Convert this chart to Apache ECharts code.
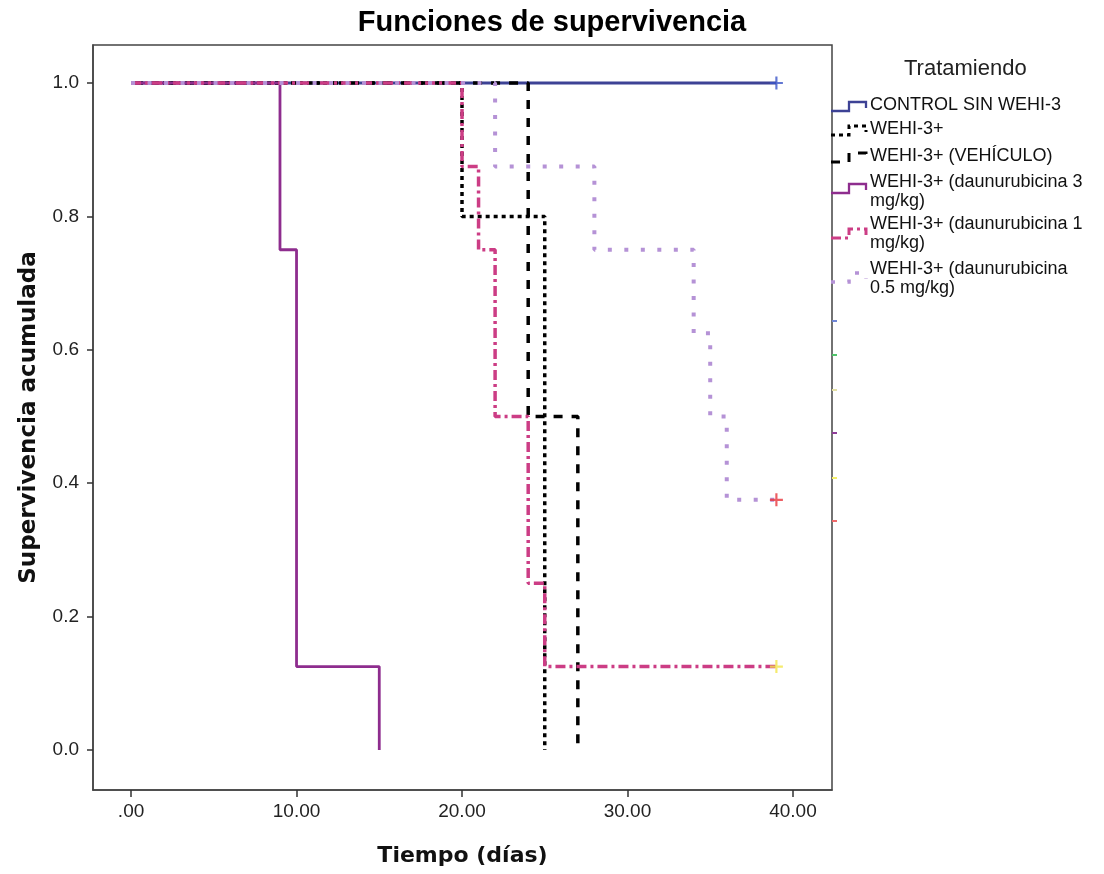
<!DOCTYPE html>
<html>
<head>
<meta charset="utf-8">
<script src="https://cdn.jsdelivr.net/npm/echarts@6/dist/echarts.min.js"></script>
<style>
  html, body { margin: 0; padding: 0; background: #fff; }
  #chart { width: 1104px; height: 874px; }
</style>
</head>
<body>
<div id="chart"></div>
<script>
// datos: [tiempo (días), supervivencia acumulada]
const control = [[0, 1], [39, 1]];
const wehi = [[0, 1], [20, 0.8], [25, 0]];
const vehiculo = [[0, 1], [24, 0.5], [27, 0]];
const dauno3 = [[0, 1], [9, 0.75], [10, 0.125], [15, 0]];
const dauno1 = [[0, 1], [20, 0.875], [21, 0.75], [22, 0.5], [24, 0.25], [25, 0.125], [39, 0.125]];
const dauno05 = [[0, 1], [22, 0.875], [28, 0.75], [34, 0.625], [35, 0.5], [36, 0.375], [39, 0.375]];
// censurados
const censControl = [[39, 1]];
const cens05 = [[39, 0.375]];
const cens1 = [[39, 0.125]];

const xTicks = [0, 10, 20, 30, 40];
const yTicks = [0, 0.2, 0.4, 0.6, 0.8, 1.0];

const legendNames = [
  "CONTROL SIN WEHI-3",
  "WEHI-3+",
  "WEHI-3+ (VEHÍCULO)",
  "WEHI-3+ (daunurubicina 3\nmg/kg)",
  "WEHI-3+ (daunurubicina 1\nmg/kg)",
  "WEHI-3+ (daunurubicina\n0.5 mg/kg)",
];

//estilos de línea
const styles = [
  { color: "#3d4295", width: 2.8, type: "solid" },
  { color: "#000000", width: 3.5, type: [4, 4] },
  { color: "#000000", width: 3.5, type: [9, 9] },
  { color: "#8e2d8e", width: 2.8, type: "solid" },
  { color: "#cc3d85", width: 3.5, type: [10, 4, 3, 4] },
  { color: "#b592d6", width: 4, type: [4, 12.5] },
];
const seriesData = [control, wehi, vehiculo, dauno3, dauno1, dauno05];

const plus = "path://M5,0h2v5h5v2h-5v5h-2v-5h-5v-2h5z";

const chart = echarts.init(document.getElementById("chart"));

const series = seriesData.map((d, i) => ({
  name: legendNames[i],
  type: "line",
  step: "end",
  data: d,
  symbol: "none",
  silent: true,
  z: i === 0 ? 2 : 3,
  lineStyle: {
    color: styles[i].color,
    width: styles[i].width,
    type: styles[i].type,
    cap: "butt",
  },
}));

const censor = (data, color) => ({
  type: "scatter",
  data: data,
  symbol: plus,
  symbolSize: 13,
  itemStyle: { color: color },
  z: 5,
});
series.push(censor(censControl, "#3b55c8"));
series.push(censor(cens05, "#e8363c"));
series.push(censor(cens1, "#f2e64a"));

// leyenda dibujada (iconos escalonados)
const legendRows = [
  { y: 106, top: 96 },
  { y: 130, top: 120 },
  { y: 157, top: 147 },
  { y: 188, top: 173 },
  { y: 233, top: 215 },
  { y: 277, top: 260 },
];
const legendGraphics = [];
legendRows.forEach((r, i) => {
  legendGraphics.push({
    type: "polyline",
    shape: {
      points: [
        [831, r.y + 5],
        [849, r.y + 5],
        [849, r.y - 4],
        [866, r.y - 4],
        [866, r.y + 2],
      ],
    },
    style: {
      stroke: styles[i].color,
      lineWidth: styles[i].width - 0.5,
      lineDash: styles[i].type === "solid" ? null : styles[i].type,
      fill: null,
    },
  });
  legendGraphics.push({
    type: "text",
    left: 870,
    top: r.top,
    style: {
      text: legendNames[i],
      font: "18px 'Liberation Sans', Arial, sans-serif",
      fill: "#111",
      lineHeight: 19,
    },
  });
});
legendGraphics.push({
  type: "text",
  left: 904,
  top: 58,
  style: {
    text: "Tratamiendo",
    font: "22px 'Liberation Sans', Arial, sans-serif",
    fill: "#222",
  },
});
// pequeñas marcas de color en el borde derecho
[
  [321, "#6f86d6"],
  [355, "#4fc36a"],
  [390, "#e3dfa5"],
  [433, "#8e3d98"],
  [478, "#f3ee6a"],
  [521, "#ef6a6a"],
].forEach(([y, c]) => {
  legendGraphics.push({
    type: "line",
    shape: { x1: 832, y1: y, x2: 837, y2: y },
    style: { stroke: c, lineWidth: 2 },
  });
});

chart.setOption({
  animation: false,
  backgroundColor: "#fff",
  title: {
    text: "Funciones de supervivencia",
    left: "center",
    top: 3,
    textStyle: {
      fontFamily: "'Liberation Sans', Arial, sans-serif",
      fontWeight: "bold",
      fontSize: 29,
      color: "#000",
    },
  },
  grid: {
    left: 93,
    top: 45,
    right: 272,
    bottom: 84,
    show: true,
    borderColor: "#444",
    borderWidth: 1.5,
    containLabel: false,
  },
  xAxis: {
    type: "value",
    min: -2.3,
    max: 42.36,
    name: "Tiempo (días)",
    nameLocation: "middle",
    nameGap: 55,
    nameTextStyle: {
      fontFamily: "'DejaVu Sans', sans-serif",
      fontWeight: "bold",
      fontSize: 22,
      color: "#111",
    },
    splitLine: { show: false },
    axisLine: { show: true, onZero: false, lineStyle: { color: "#444", width: 1.5 } },
    axisTick: {
      show: true,
      length: 7,
      customValues: xTicks,
      lineStyle: { color: "#333", width: 1.5 },
    },
    axisLabel: {
      customValues: xTicks,
      margin: 12,
      fontFamily: "'Liberation Sans', Arial, sans-serif",
      fontSize: 19,
      color: "#222",
      formatter: (v) => (v === 0 ? ".00" : v.toFixed(2)),
    },
  },
  yAxis: {
    type: "value",
    min: -0.06,
    max: 1.057,
    name: "Supervivencia acumulada",
    nameLocation: "middle",
    nameGap: 52,
    nameTextStyle: {
      fontFamily: "'DejaVu Sans', sans-serif",
      fontWeight: "bold",
      fontSize: 23,
      color: "#111",
    },
    splitLine: { show: false },
    axisLine: { show: true, onZero: false, lineStyle: { color: "#444", width: 1.5 } },
    axisTick: {
      show: true,
      length: 6,
      customValues: yTicks,
      lineStyle: { color: "#333", width: 1.5 },
    },
    axisLabel: {
      customValues: yTicks,
      margin: 14,
      fontFamily: "'Liberation Sans', Arial, sans-serif",
      fontSize: 19,
      color: "#222",
      formatter: (v) => v.toFixed(1),
    },
  },
  graphic: legendGraphics,
  series: series,
});
</script>
</body>
</html>
